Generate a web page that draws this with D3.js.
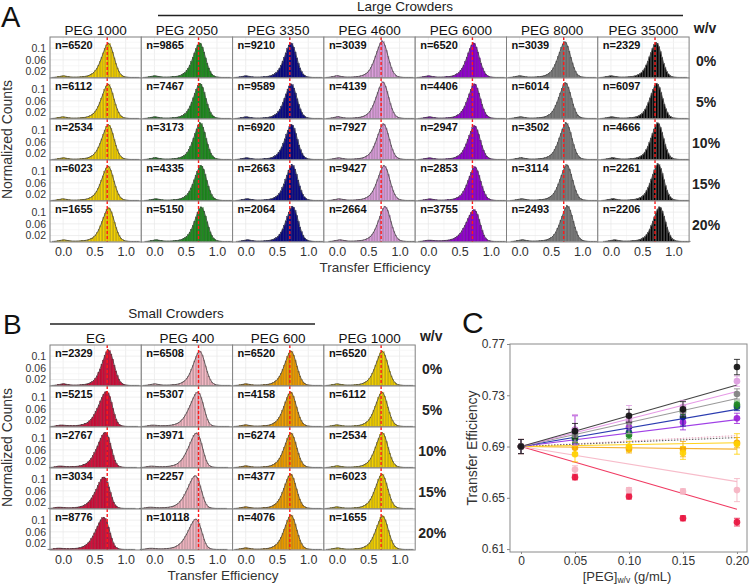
<!DOCTYPE html>
<html><head><meta charset="utf-8">
<script src="https://cdn.jsdelivr.net/npm/d3@7"></script>
<style>
body{margin:0;background:#fff}
svg{display:block}
text{font-family:"Liberation Sans",Arial,sans-serif}
</style>
</head><body>
<svg id="c" width="750" height="586"></svg>
<script>
// ---------------- DATA ----------------
const concentrations = ["0%","5%","10%","15%","20%"];

const largeCrowders = ["PEG 1000","PEG 2050","PEG 3350","PEG 4600","PEG 6000","PEG 8000","PEG 35000"];
const largeColors   = ["#f2d000","#1f8c1f","#0a0a86","#dc9fdc","#9300d0","#7c7c7c","#000000"];
const largeN = [
  [6520,6112,2534,6023,1655],
  [9865,7467,3173,4335,5150],
  [9210,9589,6920,2663,2064],
  [3039,4139,7927,9427,2664],
  [6520,4406,2947,2853,3755],
  [3039,6014,3502,3114,2493],
  [2329,6097,4666,2261,2206]
];
const largePeaks = [
  [0.705,0.700,0.705,0.700,0.710],
  [0.705,0.710,0.715,0.725,0.730],
  [0.705,0.710,0.715,0.725,0.730],
  [0.705,0.715,0.725,0.735,0.750],
  [0.705,0.720,0.720,0.725,0.725],
  [0.705,0.715,0.725,0.735,0.745],
  [0.705,0.715,0.730,0.735,0.760]
];
const largeHeights = [
  [0.118,0.118,0.120,0.118,0.115],
  [0.118,0.120,0.125,0.120,0.118],
  [0.118,0.118,0.120,0.122,0.120],
  [0.125,0.125,0.122,0.120,0.120],
  [0.118,0.118,0.115,0.115,0.108],
  [0.122,0.122,0.125,0.122,0.122],
  [0.120,0.120,0.125,0.125,0.118]
];
const largeShapes = [
  [0,0,0,0,0],[0,0,0,0,0],[0,0,0,0,0],[0,0,0,0,0],[0,0,0,0,1],[0,0,0,0,0],[0,0,0,0,0]
];

const smallCrowders = ["EG","PEG 400","PEG 600","PEG 1000"];
const smallColors   = ["#d2103c","#f3b7c3","#f0a000","#f2d000"];
const smallN = [
  [2329,5215,2767,3034,8776],
  [6508,5307,3971,2257,10118],
  [6520,4158,6274,4377,4076],
  [6520,6112,2534,6023,1655]
];
const smallPeaks = [
  [0.705,0.685,0.665,0.645,0.640],
  [0.705,0.685,0.665,0.645,0.655],
  [0.705,0.700,0.705,0.700,0.705],
  [0.705,0.700,0.705,0.700,0.710]
];
const smallHeights = [
  [0.122,0.120,0.120,0.107,0.110],
  [0.118,0.118,0.118,0.112,0.104],
  [0.118,0.118,0.118,0.118,0.118],
  [0.118,0.118,0.120,0.118,0.115]
];
const smallShapes = [
  [0,1,1,1,1],[0,1,1,1,1],[0,0,0,0,0],[0,0,0,0,0]
];

// histogram bins: start -0.2, width 0.025, mode at 0.70
const binStart = -0.2, binWidth = 0.025, shapeMode = 0.70;
const shapeNarrow = [0,0,0.0005,0.001,0.002,0.003,0.004,0.005,0.005,0.004,0.003,0.002,0.0015,0.001,0.001,0.001,
  0.001,0.0012,0.0015,0.002,0.0025,0.003,0.004,0.005,0.007,0.009,0.012,0.016,0.022,0.030,0.040,0.052,
  0.066,0.080,0.094,0.106,0.113,0.110,0.099,0.083,0.064,0.046,0.031,0.019,0.011,0.006,0.003,0.0015,
  0.001,0.0005,0,0,0,0,0,0,0];
const shapeBroad = [0,0,0.0005,0.001,0.002,0.003,0.004,0.004,0.004,0.0035,0.003,0.0025,0.002,0.002,0.002,0.002,
  0.0025,0.003,0.0035,0.004,0.005,0.006,0.008,0.010,0.013,0.017,0.022,0.028,0.036,0.045,0.055,0.066,
  0.078,0.089,0.099,0.106,0.108,0.103,0.091,0.074,0.055,0.037,0.022,0.012,0.006,0.003,0.0015,0.0008,
  0.0004,0,0,0,0,0,0,0,0];
const histShapes = [shapeNarrow, shapeBroad];
const bufferTE = 0.705;
const histXTicks = [0.0,0.5,1.0];
const histYTicks = [0.02,0.06,0.1];

// Panel C
const cConc = [0,0.05,0.10,0.15,0.20];
const cSeries = ["EG","PEG 400","PEG 600","PEG 1000","PEG 6000","PEG 3350","PEG 2050","PEG 8000","PEG 4600","PEG 35000"];
const cPointColors = ["#e8103c","#f5b3c2","#f3a200","#ffd000","#9a1fd8","#0a1a96","#1f8c1f","#808080","#dd9ce0","#111111"];
const cLineColors  = ["#f03a62","#f7bcca","#f5b030","#ffd21a","#a040e6","#2b3cb0",null,"#9a9a9a","#e69ae6","#444444"];
const cValues = [
  [0.690,0.666,0.651,0.634,0.631],
  [0.690,0.672,0.656,0.655,0.656],
  [0.690,0.689,0.688,0.688,0.693],
  [0.690,0.684,0.690,0.685,0.692],
  [0.690,0.703,0.705,0.709,0.712],
  [0.690,0.696,0.701,0.713,0.721],
  [0.690,0.697,0.699,0.717,0.7225],
  [0.690,0.699,0.709,0.718,0.731],
  [0.690,0.703,0.711,0.721,0.741],
  [0.690,0.702,0.714,0.719,0.752]
];
const cErrors = [
  [0.0055,0.002,0.002,0.002,0.003],
  [0.0055,0.003,0.002,0.002,0.009],
  [0.0055,0.004,0.003,0.006,0.004],
  [0.0055,0.006,0.004,0.005,0.008],
  [0.0055,0.011,0.005,0.006,0.004],
  [0.0055,0.004,0.003,0.007,0.003],
  [0.0055,0.004,0.003,0.004,0.003],
  [0.0055,0.005,0.004,0.004,0.004],
  [0.0055,0.012,0.011,0.005,0.004],
  [0.0055,0.006,0.005,0.006,0.006]
];
const cFitEnds = [0.641,0.6626,0.688,0.693,0.711,0.719,null,0.7275,0.733,0.738];
const cDottedFitEnds = [0.6985,0.697];
const cDottedColors = ["#e8a8c0","#666666"];
const cYTicks = [0.61,0.65,0.69,0.73,0.77];
const cXTicks = [0,0.05,0.10,0.15,0.20];
const cXTickLabels = ["0","0.05","0.10","0.15","0.20"];

// ---------------- DRAW ----------------
const svg = d3.select("#c");
const colW = 91.3, rowH = 41;
const hx = d3.scaleLinear().domain([-0.21,1.25]).range([0,colW]);
const hy = d3.scaleLinear().domain([-0.002,0.138]).range([rowH,0]);

function histPanel(g, shape, peak, height, color, n){
  g.append("rect").attr("width",colW).attr("height",rowH).attr("fill","#fff");
  [0,0.25,0.5,0.75,1.0].forEach((t,i)=>{
    g.append("line").attr("x1",hx(t)).attr("x2",hx(t)).attr("y1",0).attr("y2",rowH)
      .attr("stroke", i%2? "#f3f3f3":"#e6e6e6").attr("stroke-width",0.7);
  });
  [0.02,0.04,0.06,0.08,0.1,0.12].forEach((t,i)=>{
    g.append("line").attr("x1",0).attr("x2",colW).attr("y1",hy(t)).attr("y2",hy(t))
      .attr("stroke", i%2? "#f3f3f3":"#e6e6e6").attr("stroke-width",0.7);
  });
  const maxV = d3.max(shape);
  const shift = peak - shapeMode;
  const bins = shape.map((v,i)=>({x0: binStart + i*binWidth + shift, v: v*height/maxV}));
  const dark = d3.color(color).darker(1.2);
  g.selectAll("rect.bar").data(bins.filter(b=>b.v>0)).join("rect").attr("class","bar")
    .attr("x",d=>hx(d.x0)).attr("width",d=>hx(d.x0+binWidth)-hx(d.x0))
    .attr("y",d=>hy(d.v)).attr("height",d=>hy(0)-hy(d.v))
    .attr("fill",color).attr("stroke",color==="#000000"?"#555":dark).attr("stroke-width",0.35);
  const line = d3.line().x(d=>hx(d.x0+binWidth/2)).y(d=>hy(d.v)).curve(d3.curveBasis);
  g.append("path").attr("d",line(bins)).attr("fill","none").attr("stroke","#4a4a4a").attr("stroke-width",1).attr("opacity",0.85);
  g.append("line").attr("x1",hx(bufferTE)).attr("x2",hx(bufferTE)).attr("y1",0).attr("y2",rowH)
    .attr("stroke","#ff1a1a").attr("stroke-width",1.4).attr("stroke-dasharray","3,2");
  g.append("rect").attr("width",colW).attr("height",rowH).attr("fill","none").attr("stroke","#808080").attr("stroke-width",1);
  g.append("text").attr("x",5).attr("y",11.5).attr("font-size",11).attr("font-weight","bold").attr("fill","#111").text("n="+n);
}

function histGrid(x0, y0, names, colors, ns, peaks, heights, shapes, xTitleX){
  const G = svg.append("g").attr("transform",`translate(${x0},${y0})`);
  names.forEach((name,c)=>{
    G.append("text").attr("x",c*colW+colW/2).attr("y",-2.5).attr("text-anchor","middle")
      .attr("font-size",13.5).attr("fill","#111").text(name);
    concentrations.forEach((conc,r)=>{
      const g = G.append("g").attr("transform",`translate(${c*colW},${r*rowH})`);
      histPanel(g, histShapes[shapes[c][r]], peaks[c][r], heights[c][r], colors[c], ns[c][r]);
    });
    const ax = G.append("g").attr("transform",`translate(${c*colW},${5*rowH})`)
      .call(d3.axisBottom(hx).tickValues(histXTicks).tickFormat(d3.format(".1f")).tickSize(0).tickPadding(5));
    ax.select(".domain").remove();
    ax.selectAll("text").attr("font-size",12.5).attr("fill","#333").attr("font-family","Liberation Sans, Arial, sans-serif");
  });
  concentrations.forEach((conc,r)=>{
    const ay = G.append("g").attr("transform",`translate(0,${r*rowH})`)
      .call(d3.axisLeft(hy).tickValues(histYTicks).tickFormat(d=>String(d)).tickSize(0).tickPadding(4));
    ay.select(".domain").remove();
    ay.selectAll("text").attr("font-size",10.5).attr("fill","#333").attr("font-family","Liberation Sans, Arial, sans-serif");
    G.append("text").attr("x",names.length*colW+17).attr("y",r*rowH+rowH/2+8).attr("text-anchor","middle")
      .attr("font-size",14).attr("font-weight","bold").attr("fill","#222").text(conc);
  });
  G.append("text").attr("x",names.length*colW+16).attr("y",-4).attr("text-anchor","middle")
    .attr("font-size",14).attr("font-weight","bold").attr("fill","#222").text("w/v");
  G.append("text").attr("transform",`translate(${12-x0},${2.5*rowH}) rotate(-90)`).attr("text-anchor","middle")
    .attr("font-size",14).attr("fill","#333").text("Normalized Counts");
  G.append("text").attr("x",xTitleX-x0).attr("y",5*rowH+30).attr("text-anchor","middle")
    .attr("font-size",13.5).attr("fill","#333").text("Transfer Efficiency");
}

// Panel A
svg.append("text").attr("x",1).attr("y",27).attr("font-size",29).attr("fill","#111").text("A");
svg.append("text").attr("x",405).attr("y",11).attr("text-anchor","middle").attr("font-size",13.5).attr("fill","#222").text("Large Crowders");
svg.append("line").attr("x1",158).attr("x2",683).attr("y1",15.5).attr("y2",15.5).attr("stroke","#222").attr("stroke-width",1.6);
histGrid(50,37,largeCrowders,largeColors,largeN,largePeaks,largeHeights,largeShapes,375);

// Panel B
svg.append("text").attr("x",3).attr("y",334).attr("font-size",28).attr("fill","#111").text("B");
svg.append("text").attr("x",176).attr("y",318).attr("text-anchor","middle").attr("font-size",13.5).attr("fill","#222").text("Small Crowders");
svg.append("line").attr("x1",50).attr("x2",315).attr("y1",324).attr("y2",324).attr("stroke","#222").attr("stroke-width",1.6);
histGrid(50,345,smallCrowders,smallColors,smallN,smallPeaks,smallHeights,smallShapes,223);

// Panel C
svg.append("text").attr("x",462).attr("y",333).attr("font-size",30).attr("fill","#111").text("C");
const cx = d3.scaleLinear().domain([-0.0102,0.2093]).range([510,747]);
const cy = d3.scaleLinear().domain([0.6077,0.77]).range([552,344]);
const C = svg.append("g");
C.append("rect").attr("x",510).attr("y",344).attr("width",237).attr("height",208).attr("fill","#fff");
const axL = C.append("g").attr("transform","translate(510,0)")
  .call(d3.axisLeft(cy).tickValues(cYTicks).tickFormat(d3.format(".2f")).tickSize(3).tickPadding(2));
axL.select(".domain").remove();
axL.selectAll("line").attr("stroke","#888");
axL.selectAll("text").attr("font-size",12).attr("fill","#333").attr("font-family","Liberation Sans, Arial, sans-serif");
const axB = C.append("g").attr("transform","translate(0,552)")
  .call(d3.axisBottom(cx).tickValues(cXTicks).tickFormat((d,i)=>cXTickLabels[i]).tickSize(2).tickPadding(2));
axB.select(".domain").remove();
axB.selectAll("line").attr("stroke","#888");
axB.selectAll("text").attr("font-size",12).attr("fill","#333").attr("font-family","Liberation Sans, Arial, sans-serif");

cDottedFitEnds.forEach((e,i)=>{
  C.append("line").attr("x1",cx(0)).attr("y1",cy(cValues[0][0])).attr("x2",cx(0.20)).attr("y2",cy(e))
    .attr("stroke",cDottedColors[i]).attr("stroke-width",1.1).attr("stroke-dasharray","1.5,1.5");
});
cSeries.forEach((s,k)=>{
  if(cFitEnds[k]===null) return;
  C.append("line").attr("x1",cx(0)).attr("y1",cy(cValues[k][0])).attr("x2",cx(0.20)).attr("y2",cy(cFitEnds[k]))
    .attr("stroke",cLineColors[k]).attr("stroke-width",1.1);
});
cSeries.forEach((s,k)=>{
  const col = cPointColors[k];
  cConc.forEach((x,i)=>{
    const v = cValues[k][i], e = cErrors[k][i];
    const px = cx(x);
    C.append("line").attr("x1",px).attr("x2",px).attr("y1",cy(v-e)).attr("y2",cy(v+e)).attr("stroke",col).attr("stroke-width",1).attr("opacity",0.8);
    [v-e,v+e].forEach(t=>C.append("line").attr("x1",px-3).attr("x2",px+3).attr("y1",cy(t)).attr("y2",cy(t)).attr("stroke",col).attr("stroke-width",1).attr("opacity",0.8));
  });
  C.selectAll(null).data(cConc).join("circle")
    .attr("cx",d=>cx(d)).attr("cy",(d,i)=>cy(cValues[k][i])).attr("r",3.3)
    .attr("fill",col).attr("opacity",0.92);
});
C.append("rect").attr("x",510).attr("y",344).attr("width",237).attr("height",208).attr("fill","none").attr("stroke","#8a8a8a").attr("stroke-width",1);

C.append("text").attr("transform","translate(477,448) rotate(-90)").attr("text-anchor","middle")
  .attr("font-size",14).attr("fill","#333").text("Transfer Efficiency");
const xt = C.append("text").attr("x",627).attr("y",580.5).attr("text-anchor","middle").attr("font-size",13).attr("fill","#333");
xt.append("tspan").text("[PEG]");
xt.append("tspan").attr("dy",2.5).attr("font-size",8.5).text("w/v");
xt.append("tspan").attr("dy",-2.5).text(" (g/mL)");
</script>
</body></html>
